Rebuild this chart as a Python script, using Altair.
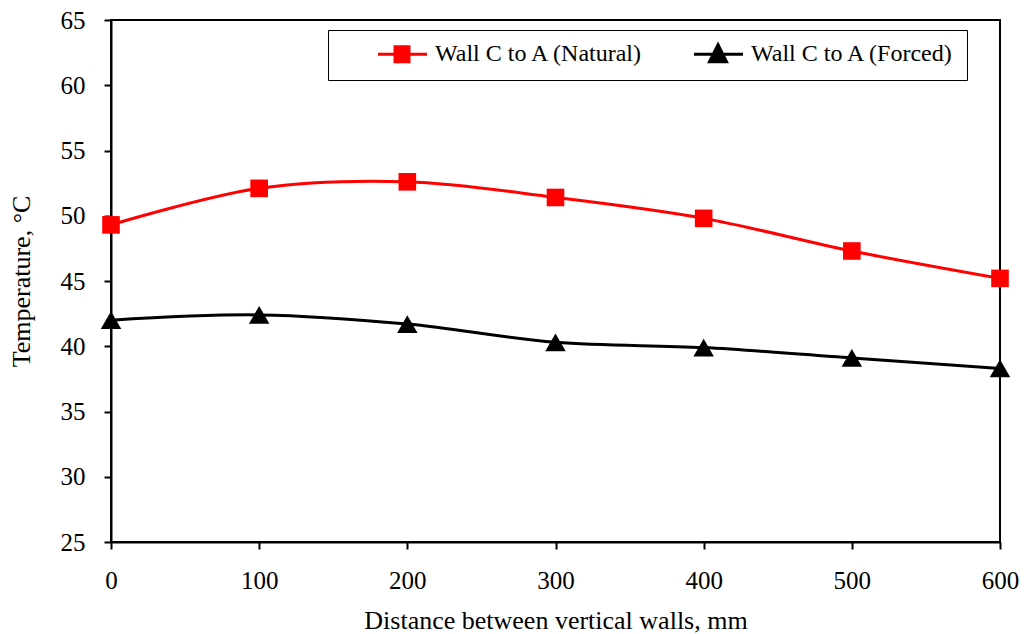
import altair as alt
import pandas as pd

distance = [0, 100, 200, 300, 400, 500, 600]
natural = [49.3, 52.1, 52.6, 51.4, 49.8, 47.3, 45.2]
forced = [42.0, 42.4, 41.7, 40.3, 39.9, 39.1, 38.3]
series_names = ["Wall C to A (Natural)", "Wall C to A (Forced)"]
colors = ["#ff0000", "#000000"]

rows = []
for d, n, f in zip(distance, natural, forced):
    rows.append({"Distance": d, "Temp": n, "Series": series_names[0]})
    rows.append({"Distance": d, "Temp": f, "Series": series_names[1]})
df = pd.DataFrame(rows)

FONT = "Liberation Serif"

x = alt.X("Distance:Q", scale=alt.Scale(domain=[0, 600], nice=False),
          axis=alt.Axis(title="Distance between vertical walls, mm", values=distance,
                        grid=False, tickSize=7, labelPadding=19, titlePadding=14,
                        labelFlush=False))
y = alt.Y("Temp:Q", scale=alt.Scale(domain=[25, 65], nice=False, zero=False),
          axis=alt.Axis(title="Temperature, °C", values=list(range(25, 70, 5)),
                        grid=False, tickSize=7, labelPadding=19, titlePadding=26,
                        labelFlush=False))
color_scale = alt.Scale(domain=series_names, range=colors)

lines = alt.Chart(df).mark_line(interpolate="catmull-rom", strokeWidth=3).encode(
    x=x, y=y, color=alt.Color("Series:N", scale=color_scale, legend=None)
)
points = alt.Chart(df).mark_point(filled=True, opacity=1).encode(
    x=x, y=y,
    color=alt.Color("Series:N", scale=color_scale, legend=None),
    shape=alt.Shape("Series:N", scale=alt.Scale(domain=series_names, range=["square", "triangle-up"]), legend=None),
    size=alt.Size("Series:N", scale=alt.Scale(domain=series_names, range=[310, 420]), legend=None),
)

legend_shapes = [
    "M2.6,0H7.5M4.3,-0.75H5.7V0.75H4.3Z",
    "M2.6,0H7.5M5,-0.95L5.85,0.75H4.15Z",
]
leg = alt.Legend(title=None, orient="none", legendX=217, legendY=10,
                 direction="horizontal", columns=2, columnPadding=12,
                 symbolSize=400, symbolStrokeWidth=3, symbolOpacity=1,
                 labelFont=FONT, labelFontSize=24, labelColor="black",
                 labelOffset=71, labelLimit=600,
                 labelExpr="datum.label == 'Wall C to A (Forced)' ? datum.label + '\u00a0\u00a0\u00a0\u00a0\u00a0\u00a0' : datum.label",
                 strokeColor="black", padding=12, fillColor="white")
legend_layer = alt.Chart(df).transform_filter("datum.Temp < 0").mark_point(filled=True).encode(
    x=x, y=y,
    fill=alt.Fill("Series:N", scale=alt.Scale(domain=series_names, range=colors), legend=leg),
    stroke=alt.Stroke("Series:N", scale=alt.Scale(domain=series_names, range=colors), legend=leg),
    shape=alt.Shape("Series:N", scale=alt.Scale(domain=series_names, range=legend_shapes), legend=leg),
)

chart = alt.layer(lines, points, legend_layer).resolve_scale(
    color="independent", shape="independent", fill="independent", stroke="independent",
    size="independent"
).properties(
    width=889, height=522,
    background="white",
    autosize=alt.AutoSizeParams(type="none"),
    padding={"left": 111, "top": 20, "right": 27, "bottom": 92},
).configure_view(stroke="black", strokeWidth=2).configure_axis(
    domainColor="black", domainWidth=2, tickColor="black", tickWidth=2,
    labelFont=FONT, labelFontSize=25, labelColor="black",
    titleFont=FONT, titleFontSize=26, titleColor="black", titleFontWeight="normal",
)

chart.save("out.html", embed_options={"renderer": "svg", "actions": False})
